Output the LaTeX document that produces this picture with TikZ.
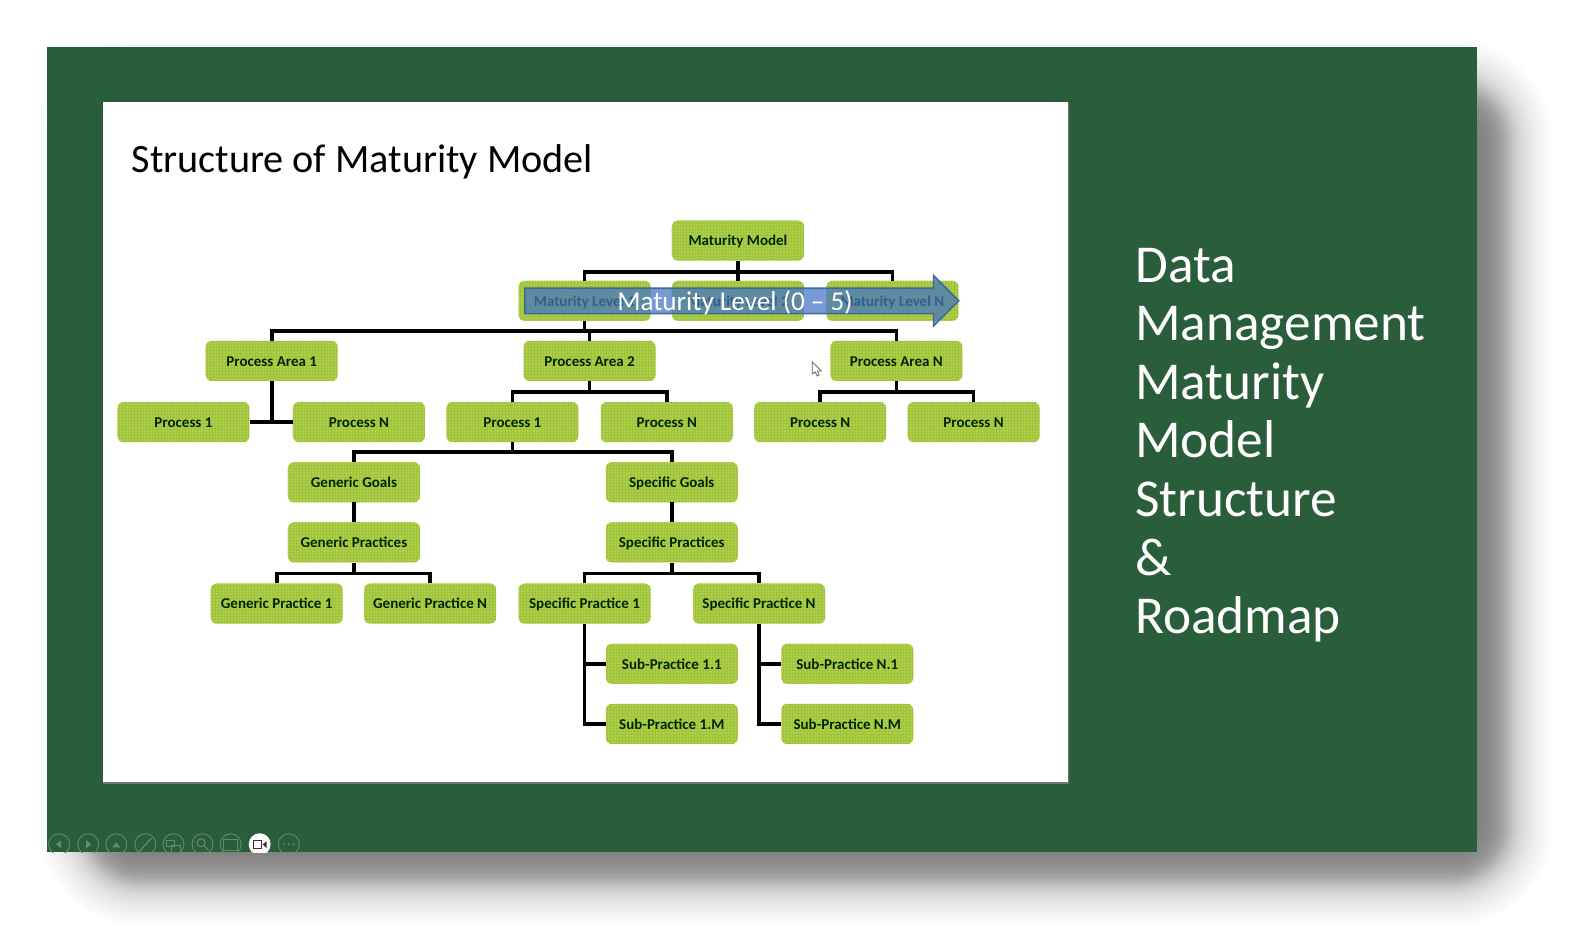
\documentclass[tikz,border=0pt]{standalone}
\usepackage{fontspec}
\setmainfont{Carlito}
\usetikzlibrary{shapes.arrows}
\definecolor{slide_green}{HTML}{2A5E3B}
\definecolor{box_green}{HTML}{AECF48}
\definecolor{grid_green}{HTML}{A0C23C}
\definecolor{arrow_blue}{HTML}{4474C4}
\definecolor{arrow_line}{HTML}{3A6A9A}
\definecolor{tool_line}{HTML}{5F8C70}
\begin{document}
\begin{tikzpicture}[x=1.0027pt,y=-1.0027pt,
           box_style/.style={rectangle,rounded corners=6pt,fill=box_green,minimum width=132pt,minimum height=40pt,
             inner sep=0pt,text height=10.5pt,text depth=0pt,text=black!85!green,font=\fontsize{15}{17}\selectfont\bfseries,
             path picture={\foreach \k in {-70,-67,...,70} {
                 \draw[grid_green,line width=.8pt] (path picture bounding box.center) ++(\k pt,-25pt) -- ++(0pt,50pt);
                 \draw[grid_green,line width=.8pt] (path picture bounding box.center) ++(-70pt,\k pt) -- ++(140pt,0pt);}}},
           edge_style/.style={draw=black,line width=3.6pt},
           tool_style/.style={draw=tool_line,line width=.9pt,fill=none}]
            % page and soft shadow
            \fill[white] (0,0) rectangle (1567.8,944.4);
            \useasboundingbox (0,0) rectangle (1567.8,944.4);
            \foreach \t in {-1,-.95,...,1.01} {
                \pgfmathsetmacro{\g}{45*(.4*\t+.6*\t*\t*\t)}
                \fill[black,opacity=.0145,rounded corners={(\g+55)*1pt}] (85-\g,85-\g) rectangle (1503+\g,878+\g);
            }
            \fill[slide_green] (47,47) rectangle (1473,850);
            % slide picture
            \fill[black!55] (103,103) rectangle (1066.5,782);
            \fill[white] (103,102) rectangle (1065,780);
            \node[anchor=base west,inner sep=0pt,font=\fontsize{40.2}{42}\selectfont] (title) at (131,172) {Structure of Maturity Model};
            \node[anchor=north west,inner sep=0pt,align=left,text=white,font=\fontsize{53.3}{58.6}\selectfont] (side_text) at (1132,247)
                {Data\\Management\\Maturity\\Model\\Structure\\\&\\Roadmap};
            % boxes
            \node[box_style] (mm) at (736,240) {Maturity Model};
            \node[box_style] (ml1) at (583,300) {Maturity Level 1};
            \node[box_style] (ml2) at (736,300) {Maturity Level 2};
            \node[box_style] (mln) at (890,300) {Maturity Level N};
            \node[box_style] (pa1) at (271,360) {Process Area 1};
            \node[box_style] (pa2) at (588,360) {Process Area 2};
            \node[box_style] (pan) at (894,360) {Process Area N};
            \node[box_style] (p11) at (183,421) {Process 1};
            \node[box_style] (p1n) at (358,421) {Process N};
            \node[box_style] (p21) at (511,421) {Process 1};
            \node[box_style] (p2n) at (665,421) {Process N};
            \node[box_style] (pn1) at (818,421) {Process N};
            \node[box_style] (pnn) at (971,421) {Process N};
            \node[box_style] (gg) at (353,481) {Generic Goals};
            \node[box_style] (sg) at (670,481) {Specific Goals};
            \node[box_style] (gp) at (353,541) {Generic Practices};
            \node[box_style] (sp) at (670,541) {Specific Practices};
            \node[box_style] (gp1) at (276,602) {Generic Practice 1};
            \node[box_style] (gpn) at (429,602) {Generic Practice N};
            \node[box_style] (sp1) at (583,602) {Specific Practice 1};
            \node[box_style] (spn) at (757,602) {Specific Practice N};
            \node[box_style] (sub11) at (670,662) {Sub-Practice 1.1};
            \node[box_style] (sub1m) at (670,722) {Sub-Practice 1.M};
            \node[box_style] (subn1) at (845,662) {Sub-Practice N.1};
            \node[box_style] (subnm) at (845,722) {Sub-Practice N.M};
            % bus points
            \coordinate (bus_ml) at (736,271);
            \coordinate (bus_pa) at (583,330);
            \coordinate (bus_p1) at (271,421);
            \coordinate (bus_p2) at (588,391);
            \coordinate (bus_pn) at (894,391);
            \coordinate (bus_goal) at (511,451);
            \coordinate (bus_gp) at (353,572);
            \coordinate (bus_sp) at (670,572);
            % connectors
            \draw[edge_style] (mm) -- (ml2);
            \draw[edge_style] (ml1) |- (bus_ml);
            \draw[edge_style] (mln) |- (bus_ml);
            \draw[edge_style] (ml1) -- (bus_pa);
            \draw[edge_style] (pa1) |- (bus_pa);
            \draw[edge_style] (pa2) |- (bus_pa);
            \draw[edge_style] (pan) |- (bus_pa);
            \draw[edge_style] (pa1) -- (bus_p1);
            \draw[edge_style] (p11) -- (p1n);
            \draw[edge_style] (pa2) -- (bus_p2);
            \draw[edge_style] (p21) |- (bus_p2);
            \draw[edge_style] (p2n) |- (bus_p2);
            \draw[edge_style] (pan) -- (bus_pn);
            \draw[edge_style] (pn1) |- (bus_pn);
            \draw[edge_style] (pnn) |- (bus_pn);
            \draw[edge_style] (p21) -- (bus_goal);
            \draw[edge_style] (gg) |- (bus_goal);
            \draw[edge_style] (sg) |- (bus_goal);
            \draw[edge_style] (gg) -- (gp);
            \draw[edge_style] (sg) -- (sp);
            \draw[edge_style] (gp) -- (bus_gp);
            \draw[edge_style] (gp1) |- (bus_gp);
            \draw[edge_style] (gpn) |- (bus_gp);
            \draw[edge_style] (sp) -- (bus_sp);
            \draw[edge_style] (sp1) |- (bus_sp);
            \draw[edge_style] (spn) |- (bus_sp);
            \draw[edge_style] (sp1) |- (sub11);
            \draw[edge_style] (sp1) |- (sub1m);
            \draw[edge_style] (spn) |- (subn1);
            \draw[edge_style] (spn) |- (subnm);
            % arrow over the levels
            \node[single arrow,draw=arrow_line,line width=1.5pt,fill=arrow_blue,fill opacity=.72,minimum height=434pt,minimum width=50pt,
                  single arrow head extend=12.5pt,single arrow tip angle=90,inner xsep=0pt,inner ysep=12pt] (level_arrow) at (733.5,300) {};
            \node[text=white,inner sep=0pt,font=\fontsize{27.2}{29}\selectfont] (level_text) at (733,302) {Maturity Level (0 -- 5)};
            % mouse pointer
            \draw[fill=white,draw=black!60,line width=.8pt] (810,361) -- (810,373) -- (813,371) -- (815,375) -- (817,374) -- (815,370) -- (819,370) -- cycle;
            % slide show tools
            \begin{scope}
            \clip (47,800) rectangle (1473,850);
            \foreach \tx in {59,88,116,145,173,202,230,288} {
                \draw[tool_style] (\tx,842) circle (10.5pt);
            }
            \fill[white] (259,842) circle (11pt);
            \fill[tool_line] (61,838) -- (61,846) -- (56,842) -- cycle;
            \fill[tool_line] (86,838) -- (86,846) -- (91,842) -- cycle;
            \fill[tool_line] (112,845) -- (120,845) -- (116,840) -- cycle;
            \draw[tool_line,line width=1.3pt] (139,849) -- (151,836);
            \draw[tool_style] (166,838) rectangle (174,844) (171,843) rectangle (180,850);
            \draw[tool_style,line width=1.1pt] (200.5,840.5) circle (4pt) (203.5,843.5) -- (208,848);
            \draw[tool_style] (223,837) rectangle (237,848);
            \draw[black!80,line width=1pt] (252.5,838) rectangle (261,846.5);
            \fill[black!80] (262,842) -- (266,839) -- (266,846) -- cycle;
            \fill[tool_line] (283,842) circle (1.1pt) (288,842) circle (1.1pt) (293,842) circle (1.1pt);
            \end{scope}
        \end{tikzpicture}
\end{document}
